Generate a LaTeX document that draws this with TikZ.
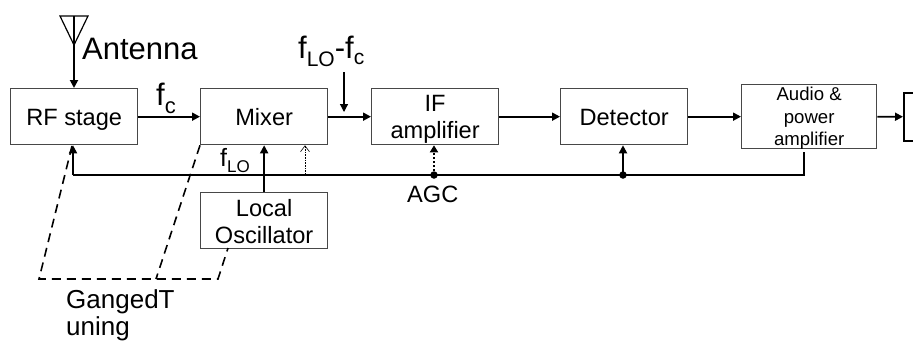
\documentclass[tikz,border=0pt]{standalone}
\usepackage{fontspec}
\setmainfont{Liberation Sans}
\usetikzlibrary{arrows.meta}
\newcommand{\fs}[2]{\fontsize{#1}{#2}\selectfont}
\newcommand{\lowsub}[3]{{\fs{#1}{#1}\raisebox{-#2pt}{#3}}}
\tikzset{
  blockbox/.style={draw=black!72,line width=1.3pt,fill=white,minimum width=127pt,minimum height=56pt,inner sep=0pt,align=center,anchor=north west,font=\fs{23.6}{27.5},text height=18pt,text depth=0pt},
  sig/.style={line width=1.8pt,-{Triangle[length=8pt,width=8pt]}},
  wire/.style={line width=1.8pt},
  gang/.style={line width=1.6pt,dash pattern=on 9pt off 6pt},
  dotjoin/.style={circle,fill=black,inner sep=0pt,minimum size=7.5pt},
  lab/.style={inner sep=0pt,anchor=base west}
}
\begin{document}
\begin{tikzpicture}[x=1pt,y=-1pt]
\useasboundingbox (0,0) rectangle (913,341);
% blocks
\node[blockbox] (rf) at (10,88) {RF stage};
\node[blockbox] (mix) at (200,88) {Mixer};
\node[blockbox,text height=44pt] (ifa) at (371,88) {IF\\amplifier};
\node[blockbox] (det) at (560,88) {Detector};
\node[blockbox,minimum width=135pt,minimum height=64pt,font=\fs{18.6}{22.5},text height=58pt] (aud) at (741,84) {Audio \&\\power\\amplifier};
\node[blockbox,text height=46pt] (lo) at (200,192) {Local\\Oscillator};
\node[draw=black,line width=1.5pt,inner sep=0pt,minimum width=9.5pt,minimum height=48pt,anchor=north west] (spk) at (903,92) {};
% antenna
\coordinate (anttop) at (74,16);
\coordinate (anttip) at (74,45);
\draw[line width=1.2pt] (60,16) -- (88,16) -- (anttip) -- cycle;
\draw[line width=1.2pt] (anttop) -- (anttip);
\draw[sig] (anttip) -- (rf.north -| anttip);
% signal path
\draw[sig] (rf.east) -- (mix.west);
\draw[sig] (mix.east) -- (ifa.west);
\draw[sig] (ifa.east) -- (det.west);
\draw[sig] (det.east) -- (aud.west |- det.east);
\draw[sig] (aud.east |- det.east) -- (spk.west);
% AGC
\coordinate (agcend) at (804,152);
\coordinate (agcrf) at (73,175);
\node[dotjoin] (d1) at (434,175) {};
\node[dotjoin] (d2) at (623,175) {};
\coordinate (agcx) at (804,175);
\draw[wire] (agcend) -- (agcx) -- (agcrf);
\draw[sig] (agcrf) -- (agcrf |- rf.south);
\draw[sig] (d2.center) -- (d2.center |- det.south);
\draw[line width=2pt,dotted,-{Triangle[length=7pt,width=8pt]}] (d1.center) -- (d1.center |- ifa.south);
\coordinate (thin) at (305,175);
\draw[line width=.6pt,densely dotted,-{Straight Barb[length=6pt,width=9pt]}] (thin) -- (thin |- mix.south);
\draw[sig] (lo.north) -- (mix.south);
% IF tap arrow
\coordinate (iftop) at (344,72);
\coordinate (ifbot) at (344,112);
\draw[line width=1.2pt,-{Triangle[length=8pt,width=8pt]}] (iftop) -- (ifbot);
% ganged tuning
\coordinate (g1) at (39,279);
\coordinate (g2) at (156,279);
\coordinate (g3) at (218,279);
\draw[gang] (72,146) -- (g1) -- (g3) -- (228,248);
\draw[gang] (mix.south west) -- (g2);
% labels
\node[lab] (tant) at (82,59) {\fs{31}{31}Antenna};
\node[lab] (tfc) at (156,105) {\fs{31}{31}f\lowsub{22}{8}{c}};
\node[lab] (tfl) at (298,58) {\fs{31}{31}f\lowsub{21}{8}{LO}-f\lowsub{21}{6}{c}};
\node[lab] (tflo) at (220,166) {\fs{25}{25}f\lowsub{17}{6}{LO}};
\node[lab] (tagc) at (407,202) {\fs{23.6}{24}AGC};
\node[lab] (tgang) at (66,308) {\fs{26}{26}GangedT};
\node[lab] (tuning) at (66,335) {\fs{26}{26}uning};
\end{tikzpicture}
\end{document}
